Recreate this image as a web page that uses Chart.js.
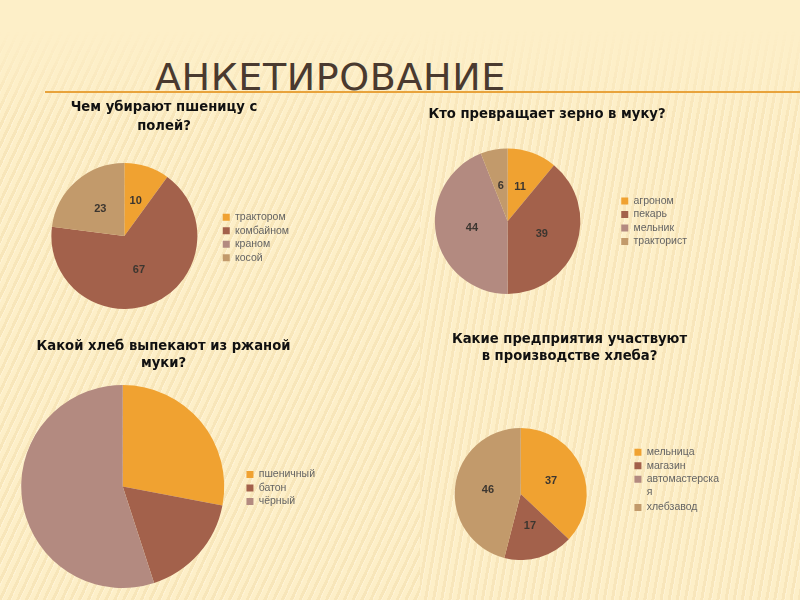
<!DOCTYPE html>
<html>
<head>
<meta charset="utf-8">
<script src="https://cdn.jsdelivr.net/npm/chart.js@4.4.1/dist/chart.umd.min.js"></script>
<style>
  html, body { margin: 0; padding: 0; }
  body { width: 800px; height: 600px; position: relative; overflow: hidden; background: #FDEFC8; }
  .bg { position: absolute; top: 0; height: 600px; }
  .bgL { left: 0; width: 420px;
    background: repeating-linear-gradient(115deg, rgba(255,248,225,0) 0px, rgba(255,248,225,0) 4px, rgba(232,200,140,0.24) 4px, rgba(232,200,140,0.24) 7px, rgba(255,250,232,0.35) 7px, rgba(255,250,232,0.35) 8px);
    -webkit-mask-image: linear-gradient(to bottom, transparent 0px, transparent 30px, black 120px, black 600px);
    mask-image: linear-gradient(to bottom, transparent 0px, transparent 30px, black 120px, black 600px); }
  .bgR { left: 420px; width: 380px;
    background: repeating-linear-gradient(100deg, rgba(255,248,225,0) 0px, rgba(255,248,225,0) 4px, rgba(232,200,140,0.22) 4px, rgba(232,200,140,0.22) 7px, rgba(255,250,232,0.35) 7px, rgba(255,250,232,0.35) 8px);
    -webkit-mask-image: linear-gradient(to bottom, transparent 0px, transparent 30px, black 120px, black 600px);
    mask-image: linear-gradient(to bottom, transparent 0px, transparent 30px, black 120px, black 600px); }
  #mainTitle { position: absolute; left: 155px; top: 58px; font-family: "DejaVu Sans", sans-serif; font-size: 38px; line-height: 38px; color: #4A3A2F; letter-spacing: 0.6px; white-space: nowrap; }
  #rule { position: absolute; left: 45px; top: 91px; width: 755px; height: 2px; background: #E8A33C; }
  canvas { position: absolute; }
</style>
</head>
<body>
<div class="bg bgL"></div>
<div class="bg bgR"></div>
<div id="mainTitle">АНКЕТИРОВАНИЕ</div>
<div id="rule"></div>
<canvas id="c1" width="270" height="214" style="left:29px;top:95px;width:270px;height:214px"></canvas>
<canvas id="c2" width="300" height="194" style="left:397px;top:100px;width:300px;height:194px"></canvas>
<canvas id="c3" width="323" height="258" style="left:2px;top:330px;width:323px;height:258px"></canvas>
<canvas id="c4" width="319" height="240" style="left:410px;top:320px;width:319px;height:240px"></canvas>
<script>
// ---- data ----
const title1 = ['Чем убирают пшеницу с', 'полей?'];
const labels1 = ['трактором', 'комбайном', 'краном', 'косой'];
const values1 = [10, 67, 0, 23];

const title2 = 'Кто превращает зерно в муку?';
const labels2 = ['агроном', 'пекарь', 'мельник', 'тракторист'];
const values2 = [11, 39, 44, 6];

const title3 = ['Какой хлеб выпекают из ржаной', 'муки?'];
const labels3 = ['пшеничный', 'батон', 'чёрный'];
const values3 = [28, 17, 55];

const title4 = ['Какие предприятия участвуют', 'в производстве хлеба?'];
const labels4 = ['мельница', 'магазин', ['автомастерска', 'я'], 'хлебзавод'];
const values4 = [37, 17, 0, 46];

const colors4 = ['#F0A231', '#A3614B', '#B38A80', '#C29A6B'];
const colors3 = ['#F0A231', '#A3614B', '#B38A80'];

// ---- value labels plugin ----
const valueLabels = {
  id: 'valueLabels',
  afterDatasetsDraw(chart, args, opts) {
    if (!opts || !opts.show) return;
    const ctx = chart.ctx;
    const meta = chart.getDatasetMeta(0);
    const data = chart.data.datasets[0].data;
    ctx.save();
    ctx.font = 'bold 11px "Liberation Sans", Arial, sans-serif';
    ctx.fillStyle = '#3C3630';
    ctx.textAlign = 'center';
    ctx.textBaseline = 'middle';
    meta.data.forEach((arc, i) => {
      if (!data[i]) return;
      const p = arc.tooltipPosition();
      ctx.fillText(String(data[i]), p.x, p.y);
    });
    ctx.restore();
  }
};

function makePie(id, title, titleLH, titlePad, labels, values, colors, showValues, legendExtra) {
  const legend = {
    display: true,
    position: 'right',
    fullSize: false,
    align: 'center',
    labels: {
      boxWidth: 7, boxHeight: 7, padding: 3,
      color: '#646464',
      font: { family: '"Liberation Sans", Arial, sans-serif', size: 10.5, lineHeight: 1.2 }
    }
  };
  if (legendExtra) Object.assign(legend, legendExtra);
  return new Chart(document.getElementById(id), {
    type: 'pie',
    data: {
      labels: labels,
      datasets: [{ data: values, backgroundColor: colors, borderWidth: 0, hoverOffset: 0 }]
    },
    options: {
      responsive: false,
      animation: false,
      layout: { padding: 0 },
      plugins: {
        title: {
          display: true, text: title, color: '#111111',
          font: { family: '"DejaVu Sans", sans-serif', size: 13.2, weight: 'bold', lineHeight: titleLH },
          padding: titlePad
        },
        legend: legend,
        tooltip: { enabled: false },
        valueLabels: { show: showValues }
      }
    },
    plugins: [valueLabels]
  });
}

const spacer = { display: true, text: '', padding: 0, font: { size: 3, lineHeight: 1 } };

makePie('c1', title1, 19 / 13.2, { top: 3.5, bottom: 26.5 }, labels1, values1, colors4, true, { title: spacer });
makePie('c2', title2, 18 / 13.2, { top: 6, bottom: 24.5 }, labels2, values2, colors4, true);
makePie('c3', title3, 16.5 / 13.2, { top: 8.75, bottom: 13.25 }, labels3, values3, colors3, false, { title: spacer });
makePie('c4', title4, 17 / 13.2, { top: 11.5, bottom: 62.5 }, labels4, values4, colors4, true, {
  align: 'start',
  title: { display: true, text: '', padding: 2, font: { size: 10, lineHeight: 1.2 } }
});
</script>
</body>
</html>
